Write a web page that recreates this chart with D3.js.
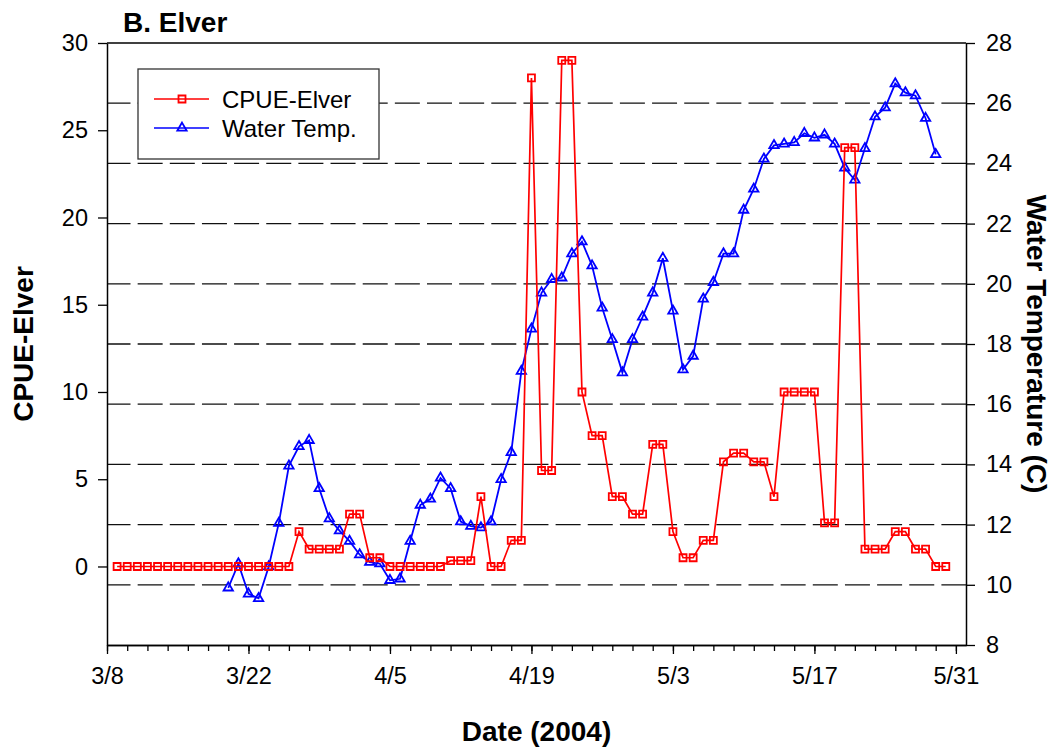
<!DOCTYPE html>
<html>
<head>
<meta charset="utf-8">
<script src="https://cdn.jsdelivr.net/npm/d3@7"></script>
<style>
  body { margin: 0; background: #fff; }
  text { font-family: "Liberation Sans", Arial, sans-serif; fill: #000; }
</style>
</head>
<body>
<script>
var width = 1057,
    height = 749;

// CPUE-Elver, daily 3/9 - 5/30 (2004)
var cpueDates = [
  "3/9","3/10","3/11","3/12","3/13","3/14","3/15","3/16","3/17","3/18","3/19","3/20","3/21","3/22","3/23","3/24","3/25","3/26","3/27","3/28","3/29","3/30","3/31",
  "4/1","4/2","4/3","4/4","4/5","4/6","4/7","4/8","4/9","4/10","4/11","4/12","4/13","4/14","4/15","4/16","4/17","4/18","4/19","4/20","4/21","4/22","4/23","4/24","4/25","4/26","4/27","4/28","4/29","4/30",
  "5/1","5/2","5/3","5/4","5/5","5/6","5/7","5/8","5/9","5/10","5/11","5/12","5/13","5/14","5/15","5/16","5/17","5/18","5/19","5/20","5/21","5/22","5/23","5/24","5/25","5/26","5/27","5/28","5/29","5/30"
];
var cpueValues = [
  0,0,0,0,0,0,0,0,0,0,0,0,0,0,0,0,0,0,2,1,1,1,1,
  3,3,0.5,0.5,0,0,0,0,0,0,0.33,0.33,0.33,4,0,0,1.5,1.5,28,5.5,5.5,29,29,10,7.5,7.5,4,4,3,3,
  7,7,2,0.5,0.5,1.5,1.5,6,6.5,6.5,6,6,4,10,10,10,10,2.5,2.5,24,24,1,1,1,2,2,1,1,0,0
];

// Water temperature (C), daily 3/20 - 5/29
var tempDates = [
  "3/20","3/21","3/22","3/23","3/24","3/25","3/26","3/27","3/28","3/29","3/30","3/31",
  "4/1","4/2","4/3","4/4","4/5","4/6","4/7","4/8","4/9","4/10","4/11","4/12","4/13","4/14","4/15","4/16","4/17","4/18","4/19","4/20","4/21","4/22","4/23","4/24","4/25","4/26","4/27","4/28","4/29","4/30",
  "5/1","5/2","5/3","5/4","5/5","5/6","5/7","5/8","5/9","5/10","5/11","5/12","5/13","5/14","5/15","5/16","5/17","5/18","5/19","5/20","5/21","5/22","5/23","5/24","5/25","5/26","5/27","5/28","5/29"
];
var tempValues = [
  9.9,10.7,9.7,9.55,10.6,12.05,13.95,14.6,14.8,13.2,12.2,11.8,
  11.45,11.0,10.75,10.7,10.15,10.2,11.45,12.65,12.85,13.55,13.2,12.1,11.95,11.9,12.1,13.5,14.4,17.1,18.5,19.7,20.15,20.2,21.0,21.4,20.6,19.2,18.15,17.05,18.15,18.9,
  19.7,20.85,19.1,17.15,17.6,19.5,20.05,21.0,21.0,22.45,23.15,24.15,24.6,24.65,24.7,25.0,24.85,24.95,24.65,23.85,23.45,24.5,25.55,25.85,26.65,26.35,26.25,25.5,24.3
];

var leftTicks = [0, 5, 10, 15, 20, 25, 30];
var rightTicks = [8, 10, 12, 14, 16, 18, 20, 22, 24, 26, 28];
var gridValues = [10, 12, 14, 16, 18, 20, 22, 24, 26];
var seriesNames = ["CPUE-Elver", "Water Temp."];

var parseDate = d3.timeParse("%m/%d/%Y");
function toDate(s) { return parseDate(s + "/2004"); }

var cpue = cpueDates.map(function (d, i) { return {date: toDate(d), value: cpueValues[i]}; });
var temp = tempDates.map(function (d, i) { return {date: toDate(d), value: tempValues[i]}; });

var plot = {left: 107, right: 966, top: 43, bottom: 645};

var x = d3.scaleTime()
    .domain([toDate("3/8"), toDate("6/1")])
    .range([plot.left, plot.right]);
var yL = d3.scaleLinear()
    .domain([-4.5, 30])
    .range([plot.bottom, plot.top]);
var yR = d3.scaleLinear()
    .domain([8, 28])
    .range([plot.bottom, plot.top]);

var svg = d3.select("body").append("svg")
    .attr("width", width)
    .attr("height", height);

// dashed grid (right axis values)
svg.append("g")
    .selectAll("line")
    .data(gridValues)
    .join("line")
    .attr("x1", plot.left)
    .attr("x2", plot.right)
    .attr("y1", function (d) { return yR(d); })
    .attr("y2", function (d) { return yR(d); })
    .attr("stroke", "#111")
    .attr("stroke-width", 1.3)
    .attr("stroke-dasharray", "25,7.15")
    .attr("stroke-dashoffset", 1.5);

// frame top line
svg.append("line")
    .attr("x1", plot.left).attr("x2", plot.right)
    .attr("y1", plot.top).attr("y2", plot.top)
    .attr("stroke", "#000").attr("stroke-width", 1.5);

// x axis
var dayStart = toDate("3/8"), dayEnd = toDate("6/1");
var majorTicks = d3.timeDay.range(dayStart, dayEnd, 14);
var minorTicks = d3.timeDay.range(dayStart, dayEnd, 2);

var xMinor = svg.append("g")
    .attr("transform", "translate(0," + plot.bottom + ")")
    .call(d3.axisBottom(x).tickValues(minorTicks).tickSize(6).tickSizeOuter(0).tickFormat(""));
var xMajor = svg.append("g")
    .attr("transform", "translate(0," + plot.bottom + ")")
    .call(d3.axisBottom(x).tickValues(majorTicks).tickSize(9).tickSizeOuter(0).tickPadding(13)
        .tickFormat(d3.timeFormat("%-m/%-d")));

// left axis
var gL = svg.append("g")
    .attr("transform", "translate(" + plot.left + ",0)")
    .call(d3.axisLeft(yL).tickValues(leftTicks).tickSize(9).tickSizeOuter(0).tickPadding(10));

// right axis
var gR = svg.append("g")
    .attr("transform", "translate(" + plot.right + ",0)")
    .call(d3.axisRight(yR).tickValues(rightTicks).tickSize(9).tickSizeOuter(0).tickPadding(11));

[xMinor, xMajor, gL, gR].forEach(function (g) {
    g.selectAll("path.domain").attr("stroke", "#000").attr("stroke-width", 1.5);
    g.selectAll(".tick line").attr("stroke", "#000").attr("stroke-width", 1.3);
    g.selectAll("text")
        .style("font-family", '"Liberation Sans", Arial, sans-serif')
        .style("font-size", "23.5px")
        .attr("fill", "#000");
});

// series
var lineL = d3.line()
    .x(function (d) { return x(d.date); })
    .y(function (d) { return yL(d.value); });
var lineR = d3.line()
    .x(function (d) { return x(d.date); })
    .y(function (d) { return yR(d.value); });

var square = d3.symbol().type(d3.symbolSquare).size(49);
var triangle = d3.symbol().type(d3.symbolTriangle).size(38);

svg.append("path")
    .datum(temp)
    .attr("fill", "none")
    .attr("stroke", "#0000ff")
    .attr("stroke-width", 1.8)
    .attr("d", lineR);

svg.append("g")
    .selectAll("path")
    .data(temp)
    .join("path")
    .attr("transform", function (d) { return "translate(" + x(d.date) + "," + yR(d.value) + ")"; })
    .attr("d", triangle)
    .attr("fill", "none")
    .attr("stroke", "#0000ff")
    .attr("stroke-width", 1.8);

svg.append("path")
    .datum(cpue)
    .attr("fill", "none")
    .attr("stroke", "#ff0000")
    .attr("stroke-width", 1.7)
    .attr("d", lineL);

svg.append("g")
    .selectAll("path")
    .data(cpue)
    .join("path")
    .attr("transform", function (d) { return "translate(" + x(d.date) + "," + yL(d.value) + ")"; })
    .attr("d", square)
    .attr("fill", "none")
    .attr("stroke", "#ff0000")
    .attr("stroke-width", 1.8);

// legend
var legend = svg.append("g");
legend.append("rect")
    .attr("x", 138).attr("y", 69)
    .attr("width", 241).attr("height", 90)
    .attr("fill", "#fff")
    .attr("stroke", "#333")
    .attr("stroke-width", 1.3);

var legendColors = ["#ff0000", "#0000ff"];
var legendSymbols = [square, triangle];
seriesNames.forEach(function (name, i) {
    var ly = 99 + i * 29;
    legend.append("line")
        .attr("x1", 154).attr("x2", 209)
        .attr("y1", ly).attr("y2", ly)
        .attr("stroke", legendColors[i])
        .attr("stroke-width", 1.7);
    legend.append("path")
        .attr("transform", "translate(182," + ly + ")")
        .attr("d", legendSymbols[i])
        .attr("fill", "none")
        .attr("stroke", legendColors[i])
        .attr("stroke-width", 1.8);
    legend.append("text")
        .attr("x", 222)
        .attr("y", ly)
        .attr("dy", "0.36em")
        .style("font-size", "24px")
        .text(name);
});

// titles
svg.append("text")
    .attr("x", 123).attr("y", 32)
    .style("font-size", "28px")
    .style("font-weight", "bold")
    .text("B. Elver");

svg.append("text")
    .attr("transform", "translate(33," + ((plot.top + plot.bottom) / 2) + ") rotate(-90)")
    .attr("text-anchor", "middle")
    .style("font-size", "28px")
    .style("font-weight", "bold")
    .text("CPUE-Elver");

svg.append("text")
    .attr("transform", "translate(1027," + ((plot.top + plot.bottom) / 2) + ") rotate(90)")
    .attr("text-anchor", "middle")
    .style("font-size", "28px")
    .style("font-weight", "bold")
    .text("Water Temperature (C)");

svg.append("text")
    .attr("x", (plot.left + plot.right) / 2)
    .attr("y", 741)
    .attr("text-anchor", "middle")
    .style("font-size", "28px")
    .style("font-weight", "bold")
    .text("Date (2004)");
</script>
</body>
</html>
